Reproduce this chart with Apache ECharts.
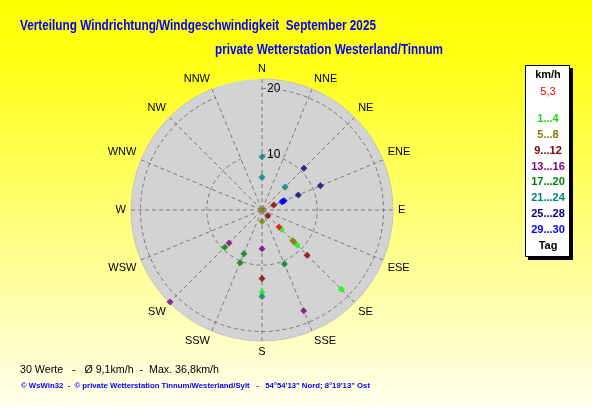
<!DOCTYPE html>
<html><head><meta charset="utf-8">
<script src="https://cdn.jsdelivr.net/npm/echarts@6/dist/echarts.min.js"></script>
<style>html,body{margin:0;padding:0;}#c{width:592px;height:407px;}</style>
</head><body><div id="c"></div>
<script>
// ---- data ----
const directions = ['N','NNE','NE','ENE','E','ESE','SE','SSE','S','SSW','SW','WSW','W','WNW','NW','NNW'];
const radiusTickLabels = [10, 20];
const groupNames = ['1...4','5...8','9...12','13...16','17...20','21...24','25...28','29...30'];
const days1to4Dir = ['SE','SE','SE','S'];
const days1to4Speed = [5.8, 9.2, 18.6, 14.1];
const days5to8Dir = ['N','S','SE','SE'];
const days5to8Speed = [1.7, 3.4, 8.2, 8.5];
const days9to12Dir = ['ENE','SE','SE','S'];
const days9to12Speed = [3.6, 2.9, 11.3, 12.0];
const days13to16Dir = ['SSE','S','SW','SW'];
const days13to16Speed = [18.1, 7.5, 8.7, 21.3];
const days17to20Dir = ['SSE','SSW','SSW','SW'];
const days17to20Speed = [10.5, 8.8, 10.3, 9.6];
const days21to24Dir = ['N','N','NE','S'];
const days21to24Speed = [9.7, 6.6, 6.6, 14.7];
const days25to28Dir = ['NE','ENE','ENE','ENE'];
const days25to28Speed = [10.6, 11.2, 7.6, 5.1];
const days29to30Dir = ['ENE','ENE'];
const days29to30Speed = [4.9, 5.3];
const meanName = '5,3';
const meanDir = ['SE'];
const meanSpeed = [5.3];
const calmDir = ['N'];
const calmSpeed = [1.67];

const titleText = 'Verteilung Windrichtung/Windgeschwindigkeit  September 2025';
const subtitleText = 'private Wetterstation Westerland/Tinnum';
const statsText = '30 Werte   -   \u00d8 9,1km/h  -  Max. 36,8km/h';
const copyText = '\u00a9 WsWin32  -  \u00a9 private Wetterstation Tinnum/Westerland/Sylt   -   54\u00b054\'13" Nord; 8\u00b019\'13" Ost';

// ---- styling ----
const groupColors = ['#00ff00','#808000','#800000','#800080','#008000','#008080','#000080','#0000ff'];
const groupTextColors = ['#11dd11','#808000','#800000','#800080','#008000','#008080','#000080','#0000ff'];
const groupDirs = [days1to4Dir,days5to8Dir,days9to12Dir,days13to16Dir,days17to20Dir,days21to24Dir,days25to28Dir,days29to30Dir];
const groupSpeeds = [days1to4Speed,days5to8Speed,days9to12Speed,days13to16Speed,days17to20Speed,days21to24Speed,days25to28Speed,days29to30Speed];

function pairs(dirs, speeds){ return speeds.map((s,i)=>[s, dirs[i]]); }
const mctx = document.createElement('canvas').getContext('2d');
function fitScale(text, font, target){ mctx.font = font; return target / mctx.measureText(text).width; }

const fTitle = 'bold 14px "Liberation Sans"';
const fStats = '11px "Liberation Sans"';
const fCopy = 'bold 8px "Liberation Sans"';

const series = [{
  name: 'Windstille', type: 'scatter', coordinateSystem: 'polar',
  symbol: 'rect', symbolSize: 6, itemStyle: {color: '#8c8c8c'},
  data: pairs(calmDir, calmSpeed), silent: true, z: 2
}];
groupNames.forEach((n,i)=>{
  series.push({name: n, type: 'scatter', coordinateSystem: 'polar', symbol: 'diamond', symbolSize: 7,
    itemStyle: {color: groupColors[i]}, data: pairs(groupDirs[i], groupSpeeds[i]), z: 3});
});
series.push({name: meanName, type: 'scatter', coordinateSystem: 'polar', symbol: 'diamond', symbolSize: 7,
  itemStyle: {color: '#ff0000'}, data: pairs(meanDir, meanSpeed), z: 4});

const chart = echarts.init(document.getElementById('c'), null, {renderer: 'canvas'});
const legendRich = {a: {width: 44, align: 'center', height: 15.86, lineHeight: 15.86, fontWeight: 'bold', fontSize: 11, fontFamily: 'Liberation Sans'}};
chart.setOption({
  animation: false,
  polar: {center: [262, 210], radius: 131},
  angleAxis: {
    type: 'category', data: directions, boundaryGap: false, startAngle: 90, clockwise: true, z: 1,
    axisLine: {show: true, lineStyle: {color: '#c4c4c4', width: 1}},
    axisTick: {show: false},
    axisLabel: {margin: 5, color: '#000', fontSize: 11, fontFamily: 'Liberation Sans'},
    splitLine: {show: true, lineStyle: {color: '#7a7a7a', type: [4, 3], width: 1}},
    splitArea: {show: false}
  },
  radiusAxis: {
    type: 'value', min: 1.67, max: 21.43, z: 1,
    axisLine: {show: false},
    axisTick: {show: false, customValues: radiusTickLabels},
    axisLabel: {margin: -5, align: 'left', color: '#000', fontSize: 12, fontFamily: 'Liberation Sans',
      customValues: radiusTickLabels, padding: [0, 0, 5, 0]},
    splitLine: {show: true, lineStyle: {color: '#7a7a7a', type: [4, 3], width: 1}}
  },
  legend: [{
    data: [{name: meanName, textStyle: {color: '#ff0000'}}],
    orient: 'vertical', left: 521, top: 84, padding: 0, icon: 'none', itemWidth: 0, itemHeight: 0,
    selectedMode: false, formatter: '{a|{name}}',
    textStyle: {rich: {a: Object.assign({}, legendRich.a, {fontWeight: 'normal'})}}
  }, {
    data: groupNames.map((n,i)=>({name: n, textStyle: {color: groupTextColors[i]}})),
    orient: 'vertical', left: 521, top: 111, padding: 0, icon: 'none', itemWidth: 0, itemHeight: 0, itemGap: 0,
    selectedMode: false, formatter: '{a|{name}}',
    textStyle: {rich: legendRich}
  }],
  graphic: [
    {type: 'rect', z: -100, silent: true, shape: {x: 0, y: 0, width: 592, height: 407},
      style: {fill: new echarts.graphic.LinearGradient(0, 0, 0, 1, [{offset: 0, color: '#ffff00'}, {offset: 0.12, color: '#ffff10'}, {offset: 1, color: '#ffffee'}])}},
    {type: 'circle', z: -90, silent: true, shape: {cx: 262, cy: 210, r: 131}, style: {fill: '#d3d3d3'}},
    {type: 'rect', z: -50, shape: {x: 528, y: 68, width: 45, height: 192}, style: {fill: '#000'}},
    {type: 'rect', z: -49, shape: {x: 525.5, y: 65.5, width: 44, height: 191}, style: {fill: '#fff', stroke: '#000', lineWidth: 1}},
    {type: 'text', x: 548, y: 75, style: {text: 'km/h', font: 'bold 11px "Liberation Sans"', fill: '#000', align: 'center', verticalAlign: 'middle'}},
    {type: 'text', x: 548, y: 246, style: {text: 'Tag', font: 'bold 11px "Liberation Sans"', fill: '#000', align: 'center', verticalAlign: 'middle'}},
    {type: 'text', x: 20, y: 26, scaleX: fitScale(titleText, fTitle, 356), style: {text: titleText, font: fTitle, fill: '#0000ff', verticalAlign: 'middle'}},
    {type: 'text', x: 215, y: 50, scaleX: fitScale(subtitleText, fTitle, 228), style: {text: subtitleText, font: fTitle, fill: '#0000ff', verticalAlign: 'middle'}},
    {type: 'text', x: 20, y: 370, scaleX: fitScale(statsText, fStats, 199), style: {text: statsText, font: fStats, fill: '#000', verticalAlign: 'middle'}},
    {type: 'text', x: 21, y: 386, scaleX: fitScale(copyText, fCopy, 349), style: {text: copyText, font: fCopy, fill: '#0000ff', verticalAlign: 'middle'}}
  ],
  series: series
});
</script></body></html>
